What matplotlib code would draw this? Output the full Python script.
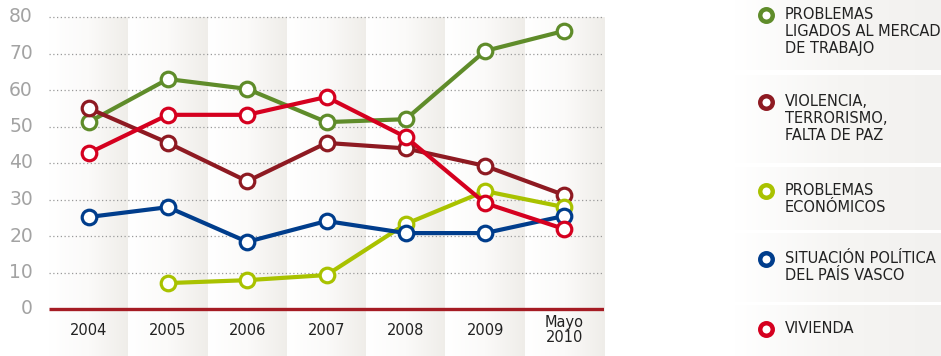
import numpy as np
import matplotlib
matplotlib.use("Agg")
import matplotlib.pyplot as plt
from matplotlib.colors import LinearSegmentedColormap

plt.rcParams['font.family'] = ['Liberation Sans Narrow', 'DejaVu Sans']

# datos
years = ['2004', '2005', '2006', '2007', '2008', '2009', 'Mayo\n2010']
series_names = ['PROBLEMAS\nLIGADOS AL MERCADO\nDE TRABAJO',
                'VIOLENCIA,\nTERRORISMO,\nFALTA DE PAZ',
                'PROBLEMAS\nECONÓMICOS',
                'SITUACIÓN POLÍTICA\nDEL PAÍS VASCO',
                'VIVIENDA']
trabajo = [51.2, 63.0, 60.3, 51.2, 52.0, 70.7, 76.2]
violencia = [55.0, 45.5, 35.0, 45.5, 44.0, 39.2, 31.2]
economicos = [None, 7.1, 7.9, 9.3, 23.3, 32.3, 27.9]
politica = [25.2, 27.9, 18.4, 24.1, 20.8, 20.8, 25.5]
vivienda = [42.7, 53.2, 53.2, 58.1, 47.1, 29.0, 21.9]
yticks = [0, 10, 20, 30, 40, 50, 60, 70, 80]

colors = ['#5f8c2a', '#8e1a22', '#a9c200', '#003d8c', '#d5001f']
# orden de dibujo (el de abajo primero)
draw_order = [2, 3, 0, 1, 4]
all_series = [trabajo, violencia, economicos, politica, vivienda]

W, H = 941, 356
fig = plt.figure(figsize=(W / 100, H / 100), dpi=100)
fig.patch.set_facecolor('white')

y_top = 80 + 17 / 3.65
y_bot = -47 / 3.65
ax = fig.add_axes([49 / W, 0, (604 - 49) / W, 1])
ax.axis('off')

band_cmap = LinearSegmentedColormap.from_list('band', ['#ffffff', '#fbfaf9', '#efede9'])
grad = np.linspace(0, 1, 256).reshape(1, -1)
for i in range(len(years)):
    ax.imshow(grad, cmap=band_cmap, aspect='auto', zorder=0,
              extent=[i - 0.5, i + 0.5, y_bot, 80], interpolation='bicubic')
ax.set_xlim(-0.5, 6.5)
ax.set_ylim(y_bot, y_top)

for v in yticks[1:]:
    ax.plot([-0.5, 6.5], [v, v], color='#9a9a9a', lw=0.9, ls=(0, (1, 2)), zorder=1)
ax.plot([-0.5, 6.5], [0, 0], color='#a51c24', lw=2.4, zorder=2, solid_capstyle='butt')

x = np.arange(len(years))
for k in draw_order:
    vals = np.array([np.nan if v is None else v for v in all_series[k]], dtype=float)
    ax.plot(x, vals, color=colors[k], lw=3.0, marker='o', ms=10.5,
            markerfacecolor='white', markeredgecolor=colors[k], mew=2.3,
            zorder=3 + k, solid_joinstyle='round')

for i, lab in enumerate(years):
    ax.text(i, -5.8, lab, ha='center', va='center', fontsize=10.5,
            color='#222222', linespacing=0.95)

for v in yticks:
    fig.text(33 / W, 1 - (309 - v * 3.65) / H, str(v), ha='right', va='center',
             fontsize=13.5, color='#a3a3a3')

# leyenda
legend_bands = [(0, 70), (75, 163), (167, 230), (233, 302), (305, 356)]
marker_y = [15, 102, 191, 259, 329]
lax = fig.add_axes([0, 0, 1, 1], zorder=-1)
lax.axis('off')
leg_cmap = LinearSegmentedColormap.from_list('leg', ['#ffffff', '#f6f5f3', '#f2f1ef'])
for (t, b) in legend_bands:
    lax.imshow(grad, cmap=leg_cmap, aspect='auto', extent=[735, W, b, t],
               interpolation='bicubic')
lax.set_xlim(0, W)
lax.set_ylim(H, 0)

for k in range(len(series_names)):
    fig.lines.append(plt.Line2D([766 / W], [1 - marker_y[k] / H], transform=fig.transFigure,
                                marker='o', ms=9, markerfacecolor='white',
                                markeredgecolor=colors[k], mew=3.2, ls='none'))
    fig.text(785 / W, 1 - (marker_y[k] - 8) / H, series_names[k], ha='left', va='top',
             fontsize=10.5, color='#222222', linespacing=1.18)

fig.savefig('out.png', dpi=100)
